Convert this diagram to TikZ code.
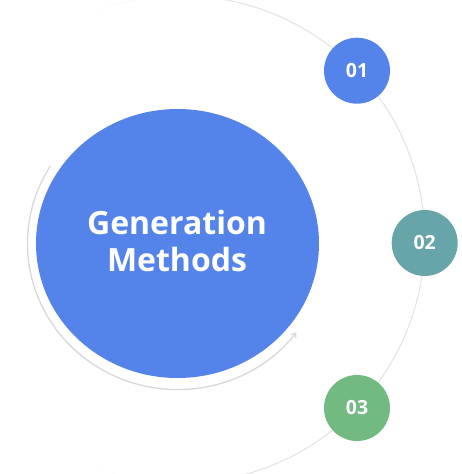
\documentclass[tikz,border=0pt]{standalone}
\usepackage{fontspec}
\setmainfont{Open Sans}
\usetikzlibrary{arrows.meta,shapes.geometric}
\definecolor{bigblue}{HTML}{5484EA}
\definecolor{teal2}{HTML}{67A5AA}
\definecolor{green3}{HTML}{72BA82}
\definecolor{ringgray}{HTML}{E2E2E2}
\begin{document}
\begin{tikzpicture}[x=1pt,y=-1pt,
  numdot/.style={circle,minimum size=66pt,inner sep=0pt,text=white,font=\bfseries\fontsize{19.5}{20}\selectfont},
  ringline/.style={draw=ringgray,line width=1pt}]
\useasboundingbox (0,0) rectangle (461,474);
% outer ring
\coordinate (oc) at (181,239.3);
\draw[ringline] ([shift={(75:243.7)}]oc) arc[start angle=75,end angle=-75,radius=243.7];
\foreach \a/\o in {75/0.9,80/0.75,85/0.6,90/0.45,95/0.3,100/0.18,105/0.08}{
  \draw[ringline,draw opacity=\o] ([shift={(\a:243.7)}]oc) arc[start angle=\a,end angle=\a+5.5,radius=243.7];
  \draw[ringline,draw opacity=\o] ([shift={(-\a:243.7)}]oc) arc[start angle=-\a,end angle=-\a-5.5,radius=243.7];
}
% inner ring with arrow
\coordinate (ic) at (177.5,243.5);
\draw[draw=ringgray!90!gray,line width=1.3pt,-{Straight Barb[length=4pt,width=6pt]}]
  ([shift={(-148:150 and 146)}]ic) arc[start angle=-148,end angle=-322.5,x radius=150,y radius=146];
% big circle
\node[ellipse,fill=bigblue,minimum width=283pt,minimum height=269pt,inner sep=0pt] (main) at (ic) {};
\node[text=white,font=\bfseries\fontsize{32}{37}\selectfont,align=center,inner sep=0pt] (title) at (177,241) {Generation\\Methods};
% numbered dots
\node[numdot,fill=bigblue] (n1) at (357,70.7) {01};
\node[numdot,fill=teal2] (n2) at (424.7,243) {02};
\node[numdot,fill=green3] (n3) at (357,408) {03};
\end{tikzpicture}
\end{document}
